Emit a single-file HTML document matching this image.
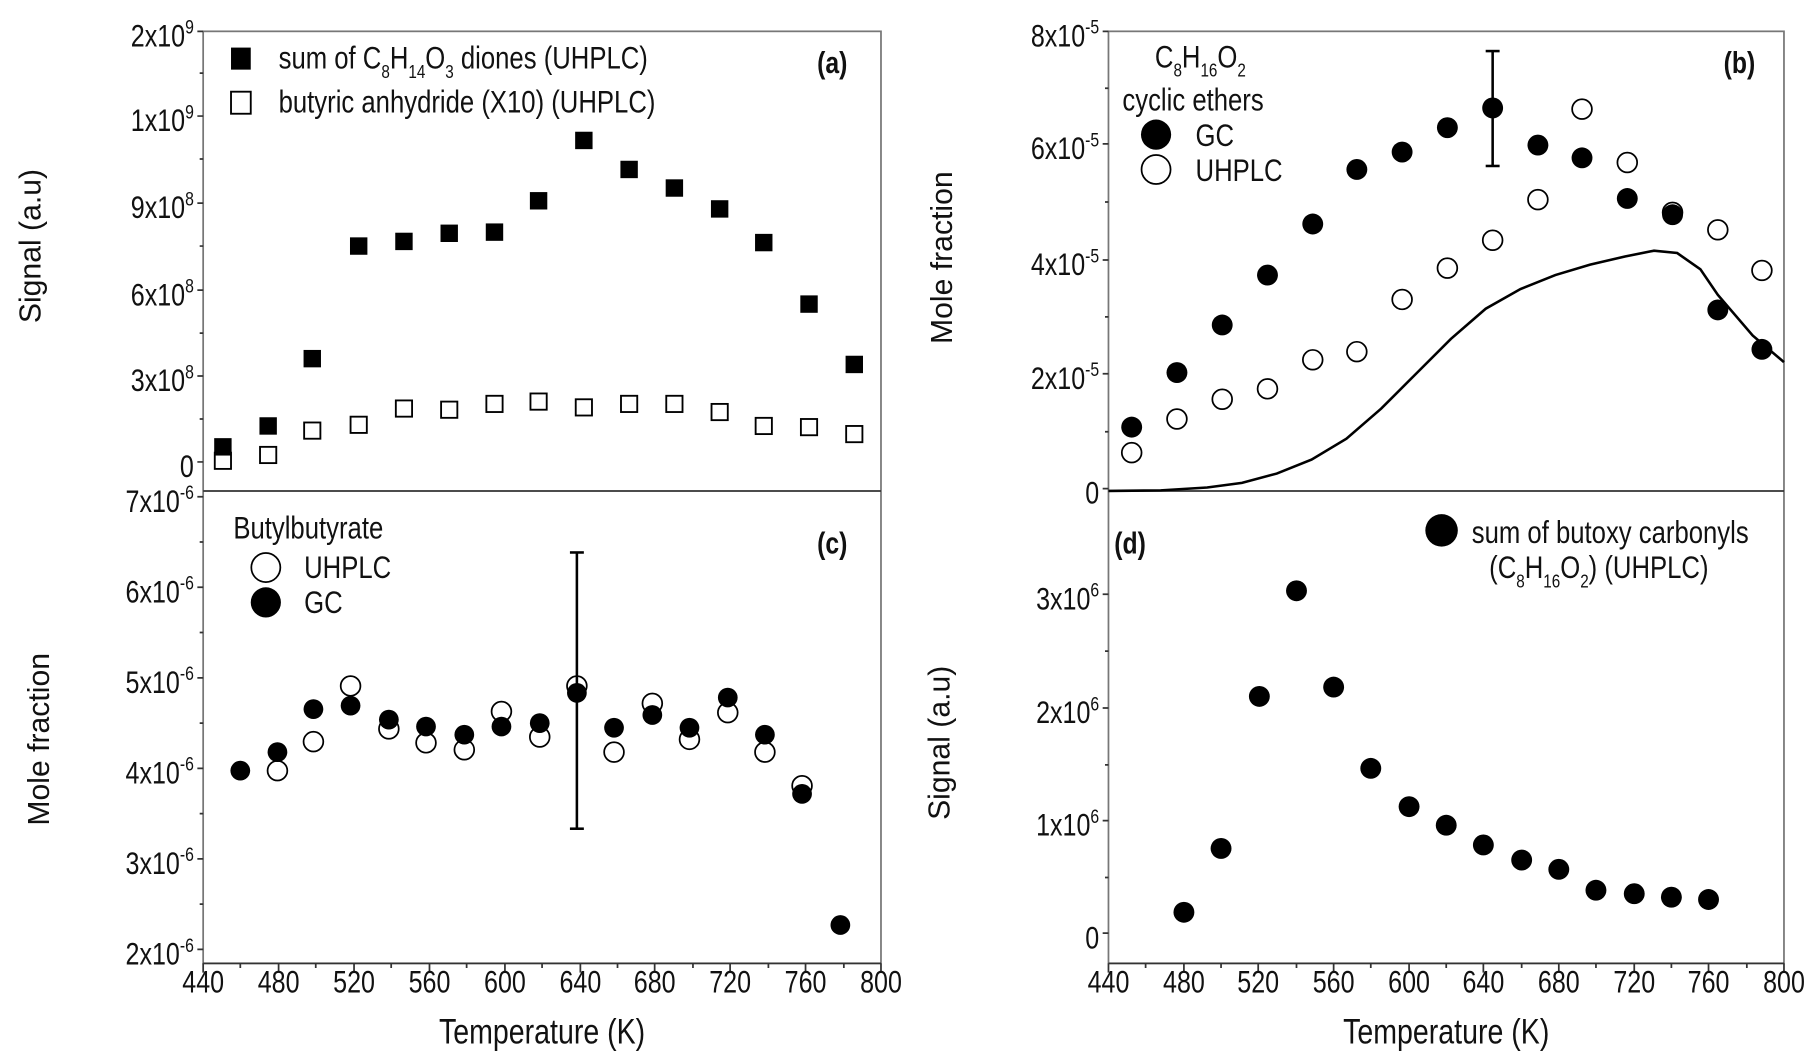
<!DOCTYPE html>
<html><head><meta charset="utf-8"><style>
html,body{margin:0;padding:0;background:#fff;}
svg{display:block;}
text{font-family:"Liberation Sans",sans-serif;fill:#111;}
.t{font-size:27px;}
.ax{font-size:26px;}
</style></head><body>
<svg width="1820" height="1062" viewBox="0 0 1568 915" xmlns="http://www.w3.org/2000/svg">
<g stroke="#777" stroke-width="1.5" fill="none">
<rect x="175" y="27" width="584" height="803"/>
<line x1="175" y1="423" x2="759" y2="423" stroke="#333"/>
<rect x="955" y="27" width="582" height="803"/>
<line x1="955" y1="423" x2="1537" y2="423" stroke="#333"/>
</g>
<g stroke="#333" stroke-width="1.5">
<line x1="175" y1="830" x2="759" y2="830"/>
<line x1="955" y1="830" x2="1537" y2="830"/>
<path d="M175 830v8M240 830v8M305 830v8M370 830v8M435 830v8M500 830v8M564 830v8M629 830v8M694 830v8M759 830v8
M207 830v4M272 830v4M337 830v4M402 830v4M467 830v4M532 830v4M597 830v4M662 830v4M727 830v4"/>
<path d="M955 830v8M1020 830v8M1084 830v8M1149 830v8M1214 830v8M1278 830v8M1343 830v8M1408 830v8M1472 830v8M1537 830v8
M987 830v4M1052 830v4M1117 830v4M1181 830v4M1246 830v4M1311 830v4M1375 830v4M1440 830v4M1505 830v4"/>
<path d="M175 27h-5M175 100h-5M175 175h-5M175 250h-5M175 324h-5M175 398h-5M175 63h-3M175 137h-3M175 212h-3M175 287h-3M175 361h-3"/>
<path d="M175 428h-5M175 506h-5M175 584h-5M175 662h-5M175 740h-5M175 818h-5M175 467h-3M175 545h-3M175 623h-3M175 701h-3M175 779h-3"/>
<path d="M955 27h-5M955 124h-5M955 224h-5M955 322h-5M955 421h-5M955 76h-3M955 174h-3M955 273h-3M955 372h-3"/>
<path d="M955 512h-5M955 610h-5M955 707h-5M955 804h-5M955 561h-3M955 659h-3M955 756h-3"/>
</g>
<g class="t" text-anchor="end">
<text transform="translate(167,40) scale(.8,1)">2x10<tspan dy="-11" font-size="17">9</tspan></text>
<text transform="translate(167,113) scale(.8,1)">1x10<tspan dy="-11" font-size="17">9</tspan></text>
<text transform="translate(167,188) scale(.8,1)">9x10<tspan dy="-11" font-size="17">8</tspan></text>
<text transform="translate(167,263) scale(.8,1)">6x10<tspan dy="-11" font-size="17">8</tspan></text>
<text transform="translate(167,337) scale(.8,1)">3x10<tspan dy="-11" font-size="17">8</tspan></text>
<text transform="translate(167,411) scale(.8,1)">0</text>
<text transform="translate(167,441) scale(.8,1)">7x10<tspan dy="-11" font-size="17">-6</tspan></text>
<text transform="translate(167,519) scale(.8,1)">6x10<tspan dy="-11" font-size="17">-6</tspan></text>
<text transform="translate(167,597) scale(.8,1)">5x10<tspan dy="-11" font-size="17">-6</tspan></text>
<text transform="translate(167,675) scale(.8,1)">4x10<tspan dy="-11" font-size="17">-6</tspan></text>
<text transform="translate(167,753) scale(.8,1)">3x10<tspan dy="-11" font-size="17">-6</tspan></text>
<text transform="translate(167,831) scale(.8,1)">2x10<tspan dy="-11" font-size="17">-6</tspan></text>
<text transform="translate(947,40) scale(.8,1)">8x10<tspan dy="-11" font-size="17">-5</tspan></text>
<text transform="translate(947,137) scale(.8,1)">6x10<tspan dy="-11" font-size="17">-5</tspan></text>
<text transform="translate(947,237) scale(.8,1)">4x10<tspan dy="-11" font-size="17">-5</tspan></text>
<text transform="translate(947,335) scale(.8,1)">2x10<tspan dy="-11" font-size="17">-5</tspan></text>
<text transform="translate(947,434) scale(.8,1)">0</text>
<text transform="translate(947,525) scale(.8,1)">3x10<tspan dy="-11" font-size="17">6</tspan></text>
<text transform="translate(947,623) scale(.8,1)">2x10<tspan dy="-11" font-size="17">6</tspan></text>
<text transform="translate(947,720) scale(.8,1)">1x10<tspan dy="-11" font-size="17">6</tspan></text>
<text transform="translate(947,817) scale(.8,1)">0</text>
</g>
<g class="t" text-anchor="middle">
<g transform="translate(0,855)">
<text transform="translate(175,0) scale(.8,1)">440</text><text transform="translate(240,0) scale(.8,1)">480</text><text transform="translate(305,0) scale(.8,1)">520</text><text transform="translate(370,0) scale(.8,1)">560</text><text transform="translate(435,0) scale(.8,1)">600</text><text transform="translate(500,0) scale(.8,1)">640</text><text transform="translate(564,0) scale(.8,1)">680</text><text transform="translate(629,0) scale(.8,1)">720</text><text transform="translate(694,0) scale(.8,1)">760</text><text transform="translate(759,0) scale(.8,1)">800</text>
<text transform="translate(955,0) scale(.8,1)">440</text><text transform="translate(1020,0) scale(.8,1)">480</text><text transform="translate(1084,0) scale(.8,1)">520</text><text transform="translate(1149,0) scale(.8,1)">560</text><text transform="translate(1214,0) scale(.8,1)">600</text><text transform="translate(1278,0) scale(.8,1)">640</text><text transform="translate(1343,0) scale(.8,1)">680</text><text transform="translate(1408,0) scale(.8,1)">720</text><text transform="translate(1472,0) scale(.8,1)">760</text><text transform="translate(1537,0) scale(.8,1)">800</text>
</g>
<text transform="translate(467,899) scale(.82,1)" font-size="30">Temperature (K)</text>
<text transform="translate(1246,899) scale(.82,1)" font-size="30">Temperature (K)</text>
</g>
<g class="ax" text-anchor="middle">
<text transform="translate(35,212) rotate(-90)">Signal (a.u)</text>
<text transform="translate(42,637) rotate(-90)">Mole fraction</text>
<text transform="translate(820,222) rotate(-90)">Mole fraction</text>
<text transform="translate(818,640) rotate(-90)">Signal (a.u)</text>
</g>
<g font-weight="bold" font-size="26">
<text transform="translate(704,63) scale(.82,1)">(a)</text>
<text transform="translate(1485,63) scale(.82,1)">(b)</text>
<text transform="translate(704,477) scale(.82,1)">(c)</text>
<text transform="translate(960,477) scale(.82,1)">(d)</text>
</g>
<g fill="#000">
<rect x="199" y="41" width="17" height="19"/>
<rect x="184.5" y="377.5" width="15" height="15"/><rect x="223.5" y="359.5" width="15" height="15"/><rect x="261.5" y="301.5" width="15" height="15"/><rect x="301.5" y="204.5" width="15" height="15"/><rect x="340.5" y="200.5" width="15" height="15"/><rect x="379.5" y="193.5" width="15" height="15"/><rect x="418.5" y="192.5" width="15" height="15"/><rect x="456.5" y="165.5" width="15" height="15"/><rect x="495.5" y="113.5" width="15" height="15"/><rect x="534.5" y="138.5" width="15" height="15"/><rect x="573.5" y="154.5" width="15" height="15"/><rect x="612.5" y="172.5" width="15" height="15"/><rect x="650.5" y="201.5" width="15" height="15"/><rect x="689.5" y="254.5" width="15" height="15"/><rect x="728.5" y="306.5" width="15" height="15"/>
</g>
<g fill="none" stroke="#000" stroke-width="1.6">
<rect x="199" y="79" width="17" height="19"/>
<rect x="185" y="390" width="14" height="14"/><rect x="224" y="385" width="14" height="14"/><rect x="262" y="364" width="14" height="14"/><rect x="302" y="359" width="14" height="14"/><rect x="341" y="345" width="14" height="14"/><rect x="380" y="346" width="14" height="14"/><rect x="419" y="341" width="14" height="14"/><rect x="457" y="339" width="14" height="14"/><rect x="496" y="344" width="14" height="14"/><rect x="535" y="341" width="14" height="14"/><rect x="574" y="341" width="14" height="14"/><rect x="613" y="348" width="14" height="14"/><rect x="651" y="360" width="14" height="14"/><rect x="690" y="361" width="14" height="14"/><rect x="729" y="367" width="14" height="14"/>
</g>
<g class="t" font-size="26">
<text transform="translate(240,59) scale(.82,1)">sum of C<tspan dy="8" font-size="16">8</tspan><tspan dy="-8">H</tspan><tspan dy="8" font-size="16">14</tspan><tspan dy="-8">O</tspan><tspan dy="8" font-size="16">3</tspan><tspan dy="-8"> diones (UHPLC)</tspan></text>
<text transform="translate(240,97) scale(.82,1)">butyric anhydride (X10) (UHPLC)</text>
</g>
<path d="M955 423 L1000 422.5 L1040 420 L1070 416 L1100 408 L1130 396 L1160 378 L1190 352 L1220 322 L1250 292 L1280 266 L1310 249 L1340 237 L1370 228 L1400 221 L1425 216 L1445 218 L1465 232 L1480 254 L1510 289 L1537 312" fill="none" stroke="#000" stroke-width="2.2"/>
<g stroke="#000" stroke-width="2.2"><line x1="1286" y1="44" x2="1286" y2="143"/><line x1="1280" y1="44" x2="1292" y2="44"/><line x1="1280" y1="143" x2="1292" y2="143"/></g>
<g fill="#000">
<circle cx="975" cy="368" r="9"/><circle cx="1014" cy="321" r="9"/><circle cx="1053" cy="280" r="9"/><circle cx="1092" cy="237" r="9"/><circle cx="1131" cy="193" r="9"/><circle cx="1169" cy="146" r="9"/><circle cx="1208" cy="131" r="9"/><circle cx="1247" cy="110" r="9"/><circle cx="1286" cy="93" r="9"/><circle cx="1325" cy="125" r="9"/><circle cx="1363" cy="136" r="9"/><circle cx="1402" cy="171" r="9"/><circle cx="1441" cy="185" r="9"/><circle cx="1480" cy="267" r="9"/><circle cx="1518" cy="301" r="9"/>
<circle cx="996" cy="116" r="13"/>
</g>
<g fill="none" stroke="#000" stroke-width="1.5">
<circle cx="975" cy="390" r="8.5"/><circle cx="1014" cy="361" r="8.5"/><circle cx="1053" cy="344" r="8.5"/><circle cx="1092" cy="335" r="8.5"/><circle cx="1131" cy="310" r="8.5"/><circle cx="1169" cy="303" r="8.5"/><circle cx="1208" cy="258" r="8.5"/><circle cx="1247" cy="231" r="8.5"/><circle cx="1286" cy="207" r="8.5"/><circle cx="1325" cy="172" r="8.5"/><circle cx="1363" cy="94" r="8.5"/><circle cx="1402" cy="140" r="8.5"/><circle cx="1441" cy="183" r="8.5"/><circle cx="1480" cy="198" r="8.5"/><circle cx="1518" cy="233" r="8.5"/>
<circle cx="996" cy="146" r="12.5"/>
</g>
<g class="t" font-size="26">
<text transform="translate(995,58) scale(.82,1)">C<tspan dy="8" font-size="16">8</tspan><tspan dy="-8">H</tspan><tspan dy="8" font-size="16">16</tspan><tspan dy="-8">O</tspan><tspan dy="8" font-size="16">2</tspan></text>
<text transform="translate(967,95) scale(.82,1)">cyclic ethers</text>
<text transform="translate(1030,126) scale(.82,1)">GC</text>
<text transform="translate(1030,156) scale(.82,1)">UHPLC</text>
</g>
<g stroke="#000" stroke-width="2.2"><line x1="497" y1="476" x2="497" y2="714"/><line x1="491" y1="476" x2="503" y2="476"/><line x1="491" y1="714" x2="503" y2="714"/></g>
<g fill="none" stroke="#000" stroke-width="1.5">
<circle cx="239" cy="664" r="8.5"/><circle cx="270" cy="639" r="8.5"/><circle cx="302" cy="591" r="8.5"/><circle cx="335" cy="628" r="8.5"/><circle cx="367" cy="640" r="8.5"/><circle cx="400" cy="646" r="8.5"/><circle cx="432" cy="613" r="8.5"/><circle cx="465" cy="635" r="8.5"/><circle cx="497" cy="591" r="8.5"/><circle cx="529" cy="648" r="8.5"/><circle cx="562" cy="606" r="8.5"/><circle cx="594" cy="637" r="8.5"/><circle cx="627" cy="614" r="8.5"/><circle cx="659" cy="648" r="8.5"/><circle cx="691" cy="677" r="8.5"/>
<circle cx="229" cy="489" r="12.5"/>
</g>
<g fill="#000">
<circle cx="207" cy="664" r="8.5"/><circle cx="239" cy="648" r="8.5"/><circle cx="270" cy="611" r="8.5"/><circle cx="302" cy="608" r="8.5"/><circle cx="335" cy="620" r="8.5"/><circle cx="367" cy="626" r="8.5"/><circle cx="400" cy="633" r="8.5"/><circle cx="432" cy="626" r="8.5"/><circle cx="465" cy="623" r="8.5"/><circle cx="497" cy="597" r="8.5"/><circle cx="529" cy="627" r="8.5"/><circle cx="562" cy="616" r="8.5"/><circle cx="594" cy="627" r="8.5"/><circle cx="627" cy="601" r="8.5"/><circle cx="659" cy="633" r="8.5"/><circle cx="691" cy="684" r="8.5"/><circle cx="724" cy="797" r="8.5"/>
<circle cx="229" cy="519" r="13"/>
</g>
<g class="t" font-size="26">
<text transform="translate(201,464) scale(.82,1)">Butylbutyrate</text>
<text transform="translate(262,498) scale(.82,1)">UHPLC</text>
<text transform="translate(262,528) scale(.82,1)">GC</text>
</g>
<g fill="#000">
<circle cx="1020" cy="786" r="9"/><circle cx="1052" cy="731" r="9"/><circle cx="1085" cy="600" r="9"/><circle cx="1117" cy="509" r="9"/><circle cx="1149" cy="592" r="9"/><circle cx="1181" cy="662" r="9"/><circle cx="1214" cy="695" r="9"/><circle cx="1246" cy="711" r="9"/><circle cx="1278" cy="728" r="9"/><circle cx="1311" cy="741" r="9"/><circle cx="1343" cy="749" r="9"/><circle cx="1375" cy="767" r="9"/><circle cx="1408" cy="770" r="9"/><circle cx="1440" cy="773" r="9"/><circle cx="1472" cy="775" r="9"/>
<circle cx="1242" cy="457" r="14"/>
</g>
<g class="t" font-size="26">
<text transform="translate(1268,468) scale(.82,1)">sum of butoxy carbonyls</text>
<text transform="translate(1283,498) scale(.82,1)">(C<tspan dy="8" font-size="16">8</tspan><tspan dy="-8">H</tspan><tspan dy="8" font-size="16">16</tspan><tspan dy="-8">O</tspan><tspan dy="8" font-size="16">2</tspan><tspan dy="-8">) (UHPLC)</tspan></text>
</g>
</svg>
</body></html>
